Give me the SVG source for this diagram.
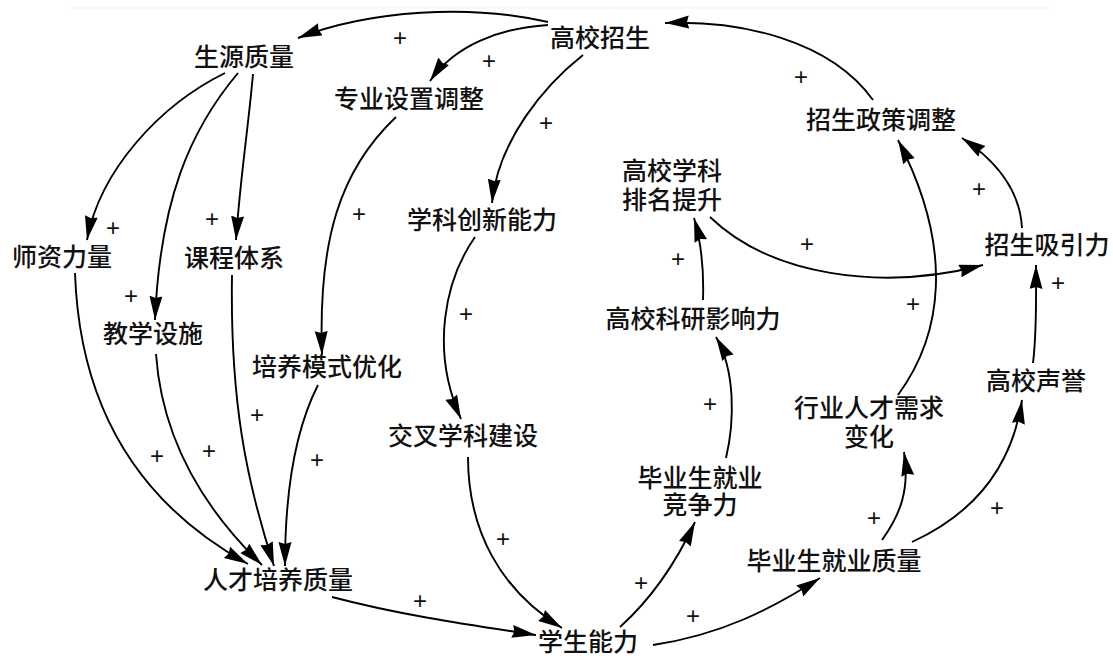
<svg xmlns="http://www.w3.org/2000/svg" width="1113" height="660" viewBox="0 0 1113 660">
<defs>
<marker id="ah" markerUnits="userSpaceOnUse" markerWidth="26" markerHeight="16" refX="24" refY="6.5" orient="auto">
<path d="M0,0 L24,6.5 L0,13 L2,6.5 z" fill="#000"/>
</marker>
<style>
.n{font-family:"Noto Sans CJK SC","Noto Sans CJK JP",sans-serif;font-size:25px;font-weight:500;fill:#111;text-anchor:middle}
.p{font-family:"Liberation Sans",Arial,sans-serif;font-size:24px;fill:#111;text-anchor:middle}
.c path{fill:none;stroke:#000;stroke-width:1.9;marker-end:url(#ah)}
</style>
</defs>
<rect width="1113" height="660" fill="#fff"/>
<line x1="70" y1="8" x2="1050" y2="8" stroke="#f2f2f2" stroke-width="1"/>
<g id="connectors" class="c">
<path d="M548,22 C470,4 370,10 298,38"/>
<path d="M548,25 C500,28 455,45 430,81"/>
<path d="M583,55 C545,85 498,140 492,203"/>
<path d="M225,73 C160,105 100,170 87,240"/>
<path d="M238,73 C190,130 160,200 155,320"/>
<path d="M253,74 C248,130 240,180 236,240"/>
<path d="M75,273 C80,420 150,510 248,564"/>
<path d="M156,354 C162,440 205,510 262,565"/>
<path d="M232,275 C230,400 246,480 274,566"/>
<path d="M318,385 C295,430 285,490 285,566"/>
<path d="M396,117 C340,170 318,240 322,355"/>
<path d="M475,237 C445,280 430,350 461,419"/>
<path d="M468,457 C468,530 500,590 562,628"/>
<path d="M332,597 C400,615 470,625 536,635"/>
<path d="M620,627 C650,600 675,565 695,522"/>
<path d="M653,645 C720,635 770,610 820,578"/>
<path d="M726,458 C735,420 735,370 716,337"/>
<path d="M703,300 C704,270 702,245 694,218"/>
<path d="M710,217 C770,275 880,292 983,265"/>
<path d="M1022,228 C1020,190 995,160 962,138"/>
<path d="M1033,363 C1037,330 1036,300 1036,265"/>
<path d="M912,542 C960,520 1010,480 1022,400"/>
<path d="M882,540 C900,515 910,490 904,452"/>
<path d="M898,395 C942,335 955,250 898,140"/>
<path d="M873,100 C830,40 740,20 665,23"/>
</g>
<g id="n1"><text class="n" x="600" y="47">高校招生</text></g>
<g id="n2"><text class="n" x="244" y="66">生源质量</text></g>
<g id="n3"><text class="n" x="409" y="108">专业设置调整</text></g>
<g id="n4"><text class="n" x="881" y="129">招生政策调整</text></g>
<g id="n5"><text class="n" x="672" y="180">高校学科<tspan x="672" dy="29">排名提升</tspan></text></g>
<g id="n6"><text class="n" x="482" y="229">学科创新能力</text></g>
<g id="n7"><text class="n" x="1047" y="254">招生吸引力</text></g>
<g id="n8"><text class="n" x="62" y="266">师资力量</text></g>
<g id="n9"><text class="n" x="234" y="267">课程体系</text></g>
<g id="n10"><text class="n" x="693" y="328">高校科研影响力</text></g>
<g id="n11"><text class="n" x="153" y="343">教学设施</text></g>
<g id="n12"><text class="n" x="327" y="376">培养模式优化</text></g>
<g id="n13"><text class="n" x="1036" y="390">高校声誉</text></g>
<g id="n14"><text class="n" x="869" y="417">行业人才需求<tspan x="869" dy="29">变化</tspan></text></g>
<g id="n15"><text class="n" x="463" y="445">交叉学科建设</text></g>
<g id="n16"><text class="n" x="700" y="487">毕业生就业<tspan x="700" dy="27">竞争力</tspan></text></g>
<g id="n17"><text class="n" x="278" y="589">人才培养质量</text></g>
<g id="n18"><text class="n" x="834" y="570">毕业生就业质量</text></g>
<g id="n19"><text class="n" x="588" y="651">学生能力</text></g>
<g id="signs">
<text class="p" x="400" y="46">+</text>
<text class="p" x="489" y="69">+</text>
<text class="p" x="546" y="131">+</text>
<text class="p" x="801" y="85">+</text>
<text class="p" x="113" y="236">+</text>
<text class="p" x="212" y="227">+</text>
<text class="p" x="131" y="304">+</text>
<text class="p" x="359" y="222">+</text>
<text class="p" x="466" y="322">+</text>
<text class="p" x="157" y="464">+</text>
<text class="p" x="209" y="459">+</text>
<text class="p" x="257" y="423">+</text>
<text class="p" x="317" y="468">+</text>
<text class="p" x="710" y="412">+</text>
<text class="p" x="503" y="547">+</text>
<text class="p" x="420" y="609">+</text>
<text class="p" x="641" y="591">+</text>
<text class="p" x="693" y="624">+</text>
<text class="p" x="678" y="267">+</text>
<text class="p" x="807" y="252">+</text>
<text class="p" x="913" y="312">+</text>
<text class="p" x="979" y="197">+</text>
<text class="p" x="1058" y="291">+</text>
<text class="p" x="997" y="516">+</text>
<text class="p" x="874" y="526">+</text>
</g>
</svg>
